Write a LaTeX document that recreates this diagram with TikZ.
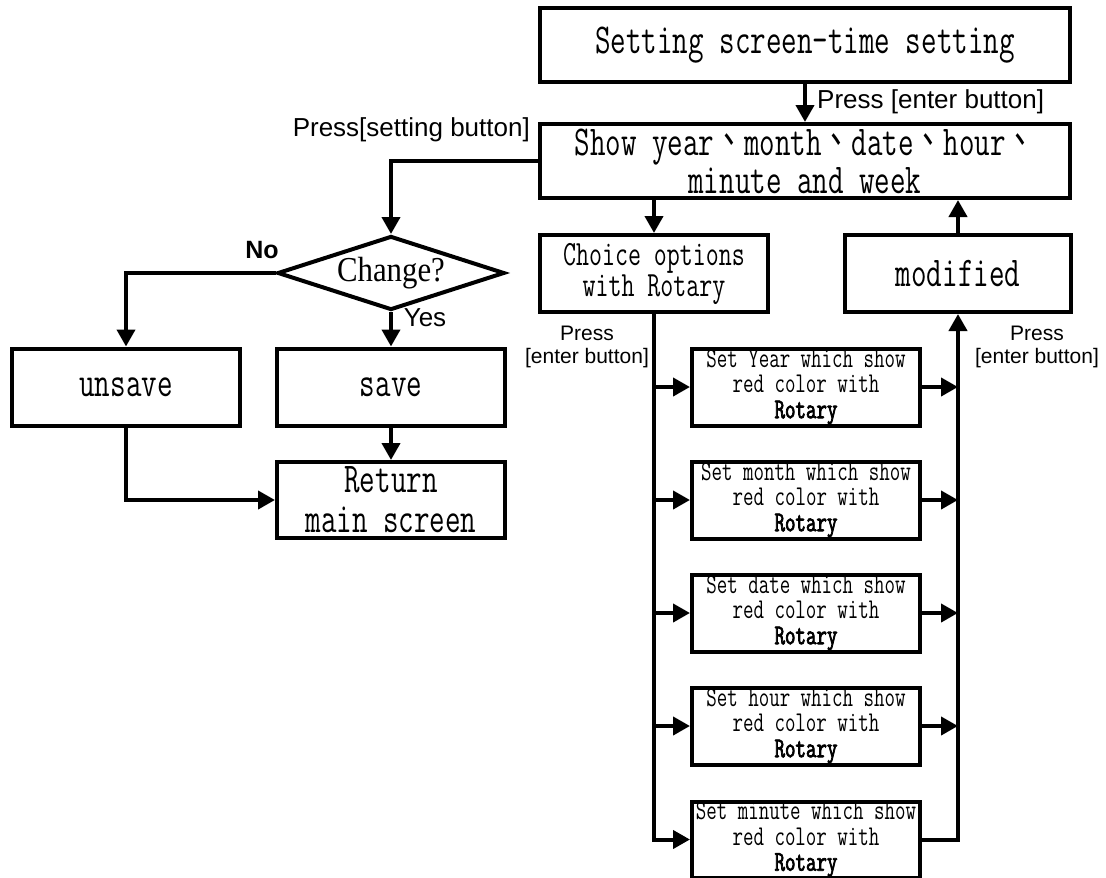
\documentclass[tikz,border=0pt]{standalone}
\usepackage{fontspec}
\setmainfont{Liberation Sans}
\newfontfamily\boxfont[FakeStretch=0.71]{Latin Modern Mono}
\newfontface\boxbold[FakeStretch=0.71,FakeBold=2.5]{Latin Modern Mono}
\newfontfamily\serifc[FakeStretch=0.88]{Liberation Serif}
\newfontfamily\cjk[FakeStretch=0.7]{Noto Sans CJK TC}
\newcommand\cjkc{{\cjk 、}}
\usetikzlibrary{arrows.meta,shapes.geometric}
\begin{document}
\begin{tikzpicture}[x=1pt,y=-1pt,
  box/.style={draw,line width=4pt,inner sep=0pt,align=center},
  arr/.style={line width=4pt,-{Triangle[length=17pt,width=18pt]}},
  big/.style={font=\boxfont\fontsize{42.5}{38}\selectfont},
  mid/.style={font=\boxfont\fontsize{35.5}{31}\selectfont},
  sml/.style={font=\boxfont\fontsize{28.7}{25.5}\selectfont},
  lbl/.style={font=\fontsize{26}{28}\selectfont,inner sep=0pt},
  slbl/.style={font=\fontsize{21}{23}\selectfont,inner sep=0pt,align=center}]
\useasboundingbox (0,0) rectangle (1106,878);

% top part
\node[box,big,minimum width=530pt,minimum height=74pt] (top) at (805,45) {Setting screen-time setting};
\node[box,big,minimum width=530pt,minimum height=74pt] (show) at (805,161) {Show year\cjkc month\cjkc date\cjkc hour\cjkc\\minute and week};
\draw[arr] (top.south) -- (show.north);
\node[lbl,anchor=west] (l1) at (817,102) {Press [enter button]};
\node[lbl,anchor=east] (l2) at (530,130) {Press[setting button]};

% left part
\node[diamond,draw,line width=4pt,inner sep=0pt,aspect=3,minimum width=227pt,minimum height=74pt,
      font=\serifc\fontsize{35}{37}\selectfont] (chg) at (391,273) {Change?};
\draw[arr] (show.west) -| (chg.north);
\node[lbl,font=\bfseries\fontsize{25}{27}\selectfont] (no) at (262,250) {No};
\node[lbl] (yes) at (425,318) {Yes};
\node[box,big,minimum width=228pt,minimum height=77pt] (uns) at (126,387) {unsave};
\node[box,big,minimum width=228pt,minimum height=77pt] (sav) at (391,387) {save};
\node[box,font=\boxfont\fontsize{42.5}{40}\selectfont,minimum width=228pt,minimum height=76pt] (ret) at (391,500) {Return\\main screen};
\draw[arr] (chg.west) -| (uns.north);
\draw[arr] (chg.south) -- (sav.north);
\draw[arr] (sav.south) -- (ret.north);
\draw[arr] (uns.south) |- (ret.west);

% right part
\node[box,mid,minimum width=228pt,minimum height=77pt] (cho) at (654,273.5) {Choice options\\with Rotary};
\node[box,big,minimum width=226pt,minimum height=77pt] (mod) at (958,273.5) {modified};
\draw[arr] (cho.north |- show.south) -- (cho.north);
\draw[arr] (mod.north) -- (mod.north |- show.south);

\node[slbl] (pl) at (587,346.5) {Press\\{[enter button]}};
\node[slbl] (pr) at (1037,346.5) {Press\\{[enter button]}};

\node[box,sml,minimum width=228pt,minimum height=77pt] (s1) at (806,387) {Set Year which show\\red color with\\{\boxbold Rotary}};
\node[box,sml,minimum width=228pt,minimum height=77pt] (s2) at (806,500) {Set month which show\\red color with\\{\boxbold Rotary}};
\node[box,sml,minimum width=228pt,minimum height=77pt] (s3) at (806,613) {Set date which show\\red color with\\{\boxbold Rotary}};
\node[box,sml,minimum width=228pt,minimum height=77pt] (s4) at (806,726) {Set hour which show\\red color with\\{\boxbold Rotary}};
\node[box,sml,minimum width=228pt,minimum height=76pt] (s5) at (806,839.5) {Set minute which show\\red color with\\{\boxbold Rotary}};

\draw[arr] (cho.south) |- (s5.west);
\draw[arr] (cho.south |- s1.west) -- (s1.west);
\draw[arr] (cho.south |- s2.west) -- (s2.west);
\draw[arr] (cho.south |- s3.west) -- (s3.west);
\draw[arr] (cho.south |- s4.west) -- (s4.west);

\draw[arr] (s1.east) -- (mod.south |- s1.east);
\draw[arr] (s2.east) -- (mod.south |- s2.east);
\draw[arr] (s3.east) -- (mod.south |- s3.east);
\draw[arr] (s4.east) -- (mod.south |- s4.east);
\draw[arr] (s5.east) -| (mod.south);
\end{tikzpicture}
\end{document}
